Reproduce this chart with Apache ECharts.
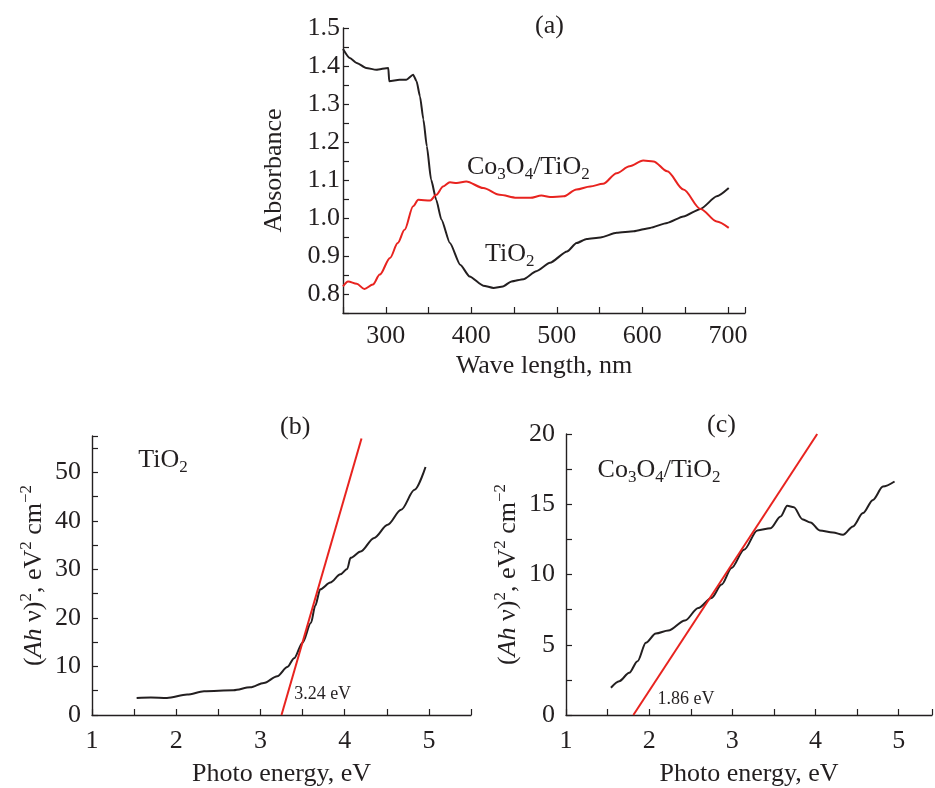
<!DOCTYPE html>
<html lang="en">
<head>
<meta charset="UTF-8">
<title>Absorbance and Tauc plots</title>
<script src="https://cdn.jsdelivr.net/npm/echarts@6/dist/echarts.min.js"></script>
</head>
<body style="margin:0">
<div id="chart" style="width:935px;height:788px"></div>
<script>
// (a) absorbance spectra
const wlTiO2 = [250, 258, 266, 277, 289, 303, 304, 316, 324, 332, 336, 340, 344, 348, 353, 359, 365, 375, 387, 398,
    414, 426, 437, 447, 461, 476, 492, 512, 523, 535, 551, 570, 590, 609, 629, 648, 668, 687, 701];
const absTiO2 = [1.445, 1.421, 1.408, 1.395, 1.390, 1.395, 1.360, 1.364, 1.364, 1.377, 1.360, 1.320, 1.259, 1.189, 1.101, 1.048, 0.996, 0.934, 0.877, 0.846,
    0.822, 0.816, 0.820, 0.833, 0.839, 0.860, 0.882, 0.912, 0.934, 0.945, 0.949, 0.961, 0.965, 0.974, 0.987, 1.004, 1.024, 1.057, 1.079];
const wlCo = [250, 256, 266, 275, 285, 293, 305, 314, 322, 332, 338, 352, 359, 367, 375, 383, 394, 414, 433, 453,
    469, 482, 492, 508, 523, 539, 554, 570, 585, 601, 613, 629, 648, 668, 687, 701];
const absCo = [0.820, 0.833, 0.827, 0.813, 0.825, 0.851, 0.895, 0.934, 0.969, 1.031, 1.048, 1.046, 1.061, 1.083, 1.094, 1.092, 1.096, 1.079, 1.061, 1.053,
    1.053, 1.059, 1.055, 1.057, 1.075, 1.083, 1.090, 1.118, 1.136, 1.151, 1.149, 1.123, 1.075, 1.024, 0.991, 0.974];

// (b) Tauc plot TiO2
const eTiO2 = [1.53, 1.70, 1.89, 2.13, 2.33, 2.68, 2.88, 3.04, 3.20, 3.32, 3.40, 3.50, 3.60, 3.65, 3.71, 3.83, 3.95, 4.03, 4.07, 4.19, 4.35, 4.51, 4.67, 4.83, 4.96];
const tTiO2 = [3.5, 3.6, 3.5, 4.2, 4.9, 5.1, 5.7, 6.6, 8.0, 9.9, 11.7, 14.9, 19.0, 22.5, 25.9, 27.3, 29.0, 30.1, 32.4, 33.7, 36.5, 39.2, 42.3, 46.4, 51.1];
const fitXTiO2 = [3.25, 4.2];
const fitYTiO2 = [0, 57];

// (c) Tauc plot Co3O4/TiO2
const eCo = [1.54, 1.64, 1.76, 1.86, 1.96, 2.08, 2.23, 2.43, 2.59, 2.75, 2.87, 2.99, 3.14, 3.30, 3.46, 3.58, 3.66, 3.74, 3.84, 3.94, 4.05, 4.21, 4.33, 4.45, 4.57, 4.69, 4.81, 4.95];
const tCo = [1.94, 2.41, 3.0, 3.83, 5.14, 5.80, 6.01, 6.72, 7.62, 8.33, 9.28, 10.46, 11.76, 13.14, 13.30, 14.13, 14.89, 14.79, 13.94, 13.70, 13.14, 12.99, 12.83, 13.42, 14.37, 15.31, 16.26, 16.62];
const fitXCo = [1.81, 4.02];
const fitYCo = [0, 20];

const panelTitles = ['(a)', '(b)', '(c)'];

const FONT = '"Liberation Serif", "DejaVu Serif", serif';
const INK = '#231f20';
const RED = '#e8231f';

const zip = (xs, ys) => xs.map((x, i) => [x, ys[i]]);
const isMult = (v, step) => Math.abs(v / step - Math.round(v / step)) < 1e-6;

const rich = {
    n: {fontFamily: FONT, fontSize: 26, color: INK, lineHeight: 32},
    i: {fontFamily: FONT, fontSize: 26, color: INK, lineHeight: 32, fontStyle: 'italic'},
    s: {fontFamily: FONT, fontSize: 17, color: INK, verticalAlign: 'bottom'},
    p: {fontFamily: FONT, fontSize: 17, color: INK, verticalAlign: 'top'},
    m: {fontFamily: FONT, fontSize: 18, color: INK}
};
const coName = '{n|Co}{s|3}{n|O}{s|4}{n|/TiO}{s|2}';
const tiName = '{n|TiO}{s|2}';
const taucName = '{n|(}{i|Ah}{n| ν)}{p|2}{n|, eV}{p|2}{n| cm}{p|−2}';

function axis(gi, min, max, interval, fmt, margin, name, gap) {
    return {
        gridIndex: gi, type: 'value', min: min, max: max, interval: interval,
        name: name, nameLocation: 'middle', nameGap: gap,
        nameTextStyle: {fontFamily: FONT, fontSize: 26, color: INK, rich: rich},
        axisLine: {show: true, onZero: false, lineStyle: {color: INK, width: 1.4}},
        axisTick: {show: true, inside: true, length: 6, lineStyle: {color: INK, width: 1.2}},
        splitLine: {show: false},
        axisLabel: {color: INK, fontFamily: FONT, fontSize: 26, margin: margin, formatter: fmt}
    };
}

function note(xi, yi, x, y, text) {
    return {
        type: 'scatter', xAxisIndex: xi, yAxisIndex: yi, symbolSize: 0, silent: true,
        itemStyle: {color: INK, opacity: 1},
        data: [[x, y]],
        label: {show: true, position: 'right', distance: 0, color: INK, opacity: 1, formatter: text, rich: rich}
    };
}

const chart = echarts.init(document.getElementById('chart'));
chart.setOption({
    animation: false,
    backgroundColor: '#fff',
    title: [
        {text: panelTitles[0], left: 530, top: 8},
        {text: panelTitles[1], left: 275, top: 409},
        {text: panelTitles[2], left: 702, top: 407}
    ].map(t => Object.assign(t, {textStyle: {fontFamily: FONT, fontSize: 26, fontWeight: 'normal', color: INK}})),
    grid: [
        {left: 343, top: 28, width: 402, height: 285},
        {left: 92, top: 436, width: 379, height: 281},
        {left: 566, top: 434, width: 370, height: 282}
    ],
    xAxis: [
        axis(0, 250, 720, 50, v => isMult(v, 100) ? String(v) : '', 10, 'Wave length, nm', 40),
        axis(1, 1, 5.5, 0.5, v => isMult(v, 1) ? String(v) : '', 13, 'Photo energy, eV', 46),
        axis(2, 1, 5.4, 0.5, v => isMult(v, 1) ? String(v) : '', 13, 'Photo energy, eV', 46)
    ],
    yAxis: [
        axis(0, 0.75, 1.5, 0.05, v => isMult(v, 0.1) ? v.toFixed(1) : '', 3, 'Absorbance', 56),
        axis(1, 0, 57.5, 5, v => isMult(v, 10) ? String(v) : '', 11, taucName, 42),
        axis(2, 0, 20, 2.5, v => isMult(v, 5) ? String(v) : '', 11, taucName, 42)
    ],
    series: [
        {type: 'line', xAxisIndex: 0, yAxisIndex: 0, data: zip(wlTiO2, absTiO2), showSymbol: false,
            smooth: 0.2, smoothMonotone: 'x', lineStyle: {color: INK, width: 2}},
        {type: 'line', xAxisIndex: 0, yAxisIndex: 0, data: zip(wlCo, absCo), showSymbol: false,
            smooth: 0.3, smoothMonotone: 'x', lineStyle: {color: RED, width: 2}},
        {type: 'line', xAxisIndex: 1, yAxisIndex: 1, data: zip(eTiO2, tTiO2), showSymbol: false,
            smooth: 0.3, smoothMonotone: 'x', lineStyle: {color: INK, width: 2}},
        {type: 'line', xAxisIndex: 1, yAxisIndex: 1, data: zip(fitXTiO2, fitYTiO2), showSymbol: false,
            lineStyle: {color: RED, width: 2}},
        {type: 'line', xAxisIndex: 2, yAxisIndex: 2, data: zip(eCo, tCo), showSymbol: false,
            smooth: 0.3, smoothMonotone: 'x', lineStyle: {color: INK, width: 2}},
        {type: 'line', xAxisIndex: 2, yAxisIndex: 2, data: zip(fitXCo, fitYCo), showSymbol: false,
            lineStyle: {color: RED, width: 2}},
        note(0, 0, 395, 1.135, coName),
        note(0, 0, 416, 0.905, tiName),
        note(1, 1, 1.55, 52.5, tiName),
        note(1, 1, 3.40, 4.2, '{m|3.24 eV}'),
        note(2, 2, 1.38, 17.4, coName),
        note(2, 2, 2.10, 1.1, '{m|1.86 eV}')
    ]
});
</script>
</body>
</html>
